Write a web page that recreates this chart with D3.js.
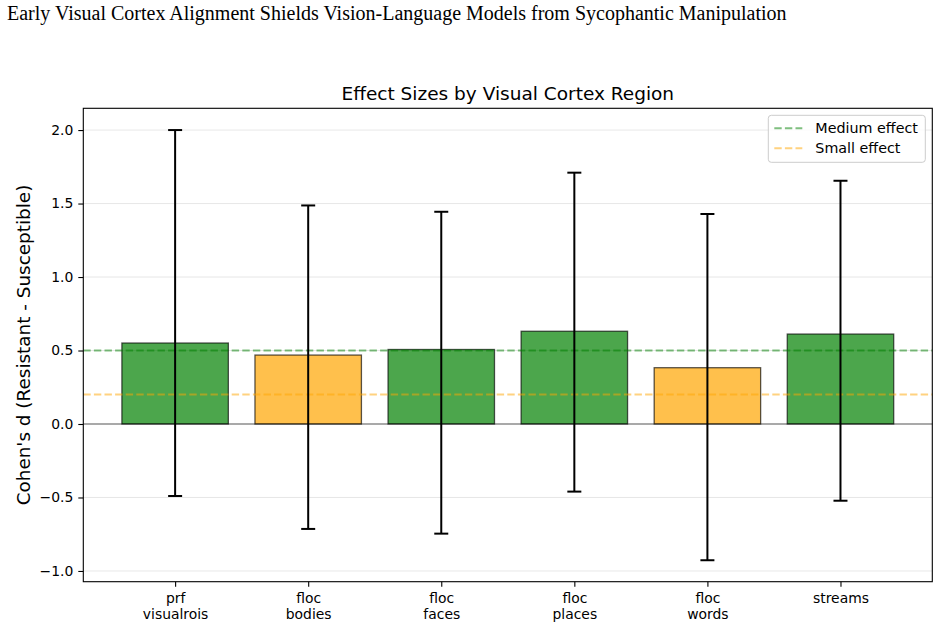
<!DOCTYPE html>
<html>
<head>
<meta charset="utf-8">
<script src="https://cdn.jsdelivr.net/npm/d3@7"></script>
<style>
  body { margin: 0; background: #fff; }
  svg text { font-family: "DejaVu Sans", sans-serif; fill: #000; }
</style>
</head>
<body>
<div id="chart-area"></div>
<script>
var width = 940;
var height = 628;

// data
var regions = ["prf\nvisualrois", "floc\nbodies", "floc\nfaces", "floc\nplaces", "floc\nwords", "streams"];
var effectSizes = [0.551, 0.469, 0.507, 0.631, 0.383, 0.612];
var ciLow = [-0.49, -0.714, -0.746, -0.46, -0.927, -0.522];
var ciHigh = [2.0, 1.487, 1.444, 1.71, 1.429, 1.655];
var yTicks = [-1.0, -0.5, 0.0, 0.5, 1.0, 1.5, 2.0];
var thresholds = [
  { label: "Medium effect", value: 0.5, color: "green" },
  { label: "Small effect", value: 0.2, color: "orange" }
];

var margin = { left: 83.3, right: 940 - 932.3, top: 108.3, bottom: 628 - 581.7 };
var plotW = width - margin.left - margin.right;
var plotH = height - margin.top - margin.bottom;

var svg = d3.select("#chart-area")
  .append("svg")
  .attr("width", width)
  .attr("height", height);

// suptitle
svg.append("text")
  .attr("x", 7)
  .attr("y", 20)
  .style("font-family", "'Liberation Serif', 'DejaVu Serif', serif")
  .style("font-size", "20px")
  .text("Early Visual Cortex Alignment Shields Vision-Language Models from Sycophantic Manipulation");

var g = svg.append("g")
  .attr("transform", "translate(" + margin.left + "," + margin.top + ")");

// X: regions (matplotlib-like index scale)
var x = d3.scaleLinear()
  .domain([-0.69, regions.length - 1 + 0.69])
  .range([0, plotW]);

// Y: Cohen's d
var y = d3.scaleLinear()
  .domain([-1.073, 2.148])
  .range([plotH, 0]);

var color = function(d) { return d >= 0.5 ? "green" : "orange"; };

// grid
g.selectAll(".grid")
  .data(yTicks)
  .enter()
  .append("line")
  .attr("x1", 0)
  .attr("x2", plotW)
  .attr("y1", function(d) { return y(d); })
  .attr("y2", function(d) { return y(d); })
  .attr("stroke", "#b0b0b0")
  .attr("stroke-opacity", 0.3)
  .attr("stroke-width", 1);

// bars
var bw = x(0.8) - x(0);
g.selectAll(".bar")
  .data(effectSizes)
  .enter()
  .append("rect")
  .attr("x", function(d, i) { return x(i) - bw / 2; })
  .attr("y", function(d) { return y(Math.max(d, 0)); })
  .attr("width", bw)
  .attr("height", function(d) { return Math.abs(y(d) - y(0)); })
  .attr("fill", function(d) { return color(d); })
  .attr("fill-opacity", 0.7)
  .attr("stroke", "#000")
  .attr("stroke-opacity", 0.65)
  .attr("stroke-width", 1.3);

// zero line
g.append("line")
  .attr("x1", 0).attr("x2", plotW)
  .attr("y1", y(0)).attr("y2", y(0))
  .attr("stroke", "#000")
  .attr("stroke-opacity", 0.3)
  .attr("stroke-width", 2);

// threshold lines
g.selectAll(".thr")
  .data(thresholds)
  .enter()
  .append("line")
  .attr("x1", 0).attr("x2", plotW)
  .attr("y1", function(d) { return y(d.value); })
  .attr("y2", function(d) { return y(d.value); })
  .attr("stroke", function(d) { return d.color; })
  .attr("stroke-opacity", 0.5)
  .attr("stroke-width", 2)
  .attr("stroke-dasharray", "7.4,3.2");

// error bars
var errs = g.selectAll(".err")
  .data(effectSizes)
  .enter()
  .append("g");
errs.append("line")
  .attr("x1", function(d, i) { return x(i); })
  .attr("x2", function(d, i) { return x(i); })
  .attr("y1", function(d, i) { return y(ciLow[i]); })
  .attr("y2", function(d, i) { return y(ciHigh[i]); })
  .attr("stroke", "#000")
  .attr("stroke-width", 2);
[ciLow, ciHigh].forEach(function(arr) {
  errs.append("line")
    .attr("x1", function(d, i) { return x(i) - 7; })
    .attr("x2", function(d, i) { return x(i) + 7; })
    .attr("y1", function(d, i) { return y(arr[i]); })
    .attr("y2", function(d, i) { return y(arr[i]); })
    .attr("stroke", "#000")
    .attr("stroke-width", 2);
});

// frame
g.append("rect")
  .attr("width", plotW)
  .attr("height", plotH)
  .attr("fill", "none")
  .attr("stroke", "#000")
  .attr("stroke-width", 1.1);

// y axis
var yAxis = g.append("g")
  .call(d3.axisLeft(y).tickValues(yTicks).tickSize(5).tickPadding(5)
    .tickFormat(function(d) { return d3.format(".1f")(d).replace("-", "\u2212"); }));
yAxis.select(".domain").remove();
yAxis.selectAll("line").attr("stroke-width", 1.1);
yAxis.selectAll("text").style("font-size", "13.9px").style("font-family", "'DejaVu Sans', sans-serif");

// x axis
var xAxis = g.append("g")
  .attr("transform", "translate(0," + plotH + ")")
  .call(d3.axisBottom(x).tickValues(d3.range(regions.length)).tickSize(5).tickFormat(""));
xAxis.select(".domain").remove();
xAxis.selectAll("line").attr("stroke-width", 1.1);
xAxis.selectAll(".tick").each(function(d) {
  var t = d3.select(this).append("text")
    .attr("text-anchor", "middle")
    .style("font-size", "13.9px")
    .style("fill", "#000");
  regions[d].split("\n").forEach(function(line, k) {
    t.append("tspan").attr("x", 0).attr("y", 21 + k * 16).text(line);
  });
});

// axis title
g.append("text")
  .attr("x", plotW / 2)
  .attr("y", -8)
  .attr("text-anchor", "middle")
  .style("font-size", "18.5px")
  .text("Effect Sizes by Visual Cortex Region");

// y label
svg.append("text")
  .attr("transform", "translate(30," + (margin.top + plotH / 2) + ") rotate(-90)")
  .attr("text-anchor", "middle")
  .style("font-size", "18.4px")
  .text("Cohen's d (Resistant - Susceptible)");

// legend
var leg = g.append("g")
  .attr("transform", "translate(" + (plotW - 164) + ",7)");
leg.append("rect")
  .attr("width", 157)
  .attr("height", 47)
  .attr("rx", 3)
  .attr("fill", "#fff")
  .attr("fill-opacity", 0.8)
  .attr("stroke", "#ccc");
thresholds.forEach(function(d, i) {
  leg.append("line")
    .attr("x1", 6).attr("x2", 34)
    .attr("y1", 13 + i * 20).attr("y2", 13 + i * 20)
    .attr("stroke", d.color)
    .attr("stroke-opacity", 0.5)
    .attr("stroke-width", 2)
    .attr("stroke-dasharray", "7.4,3.2");
  leg.append("text")
    .attr("x", 47)
    .attr("y", 18 + i * 20)
    .style("font-size", "14.3px")
    .text(d.label);
});
</script>
</body>
</html>
